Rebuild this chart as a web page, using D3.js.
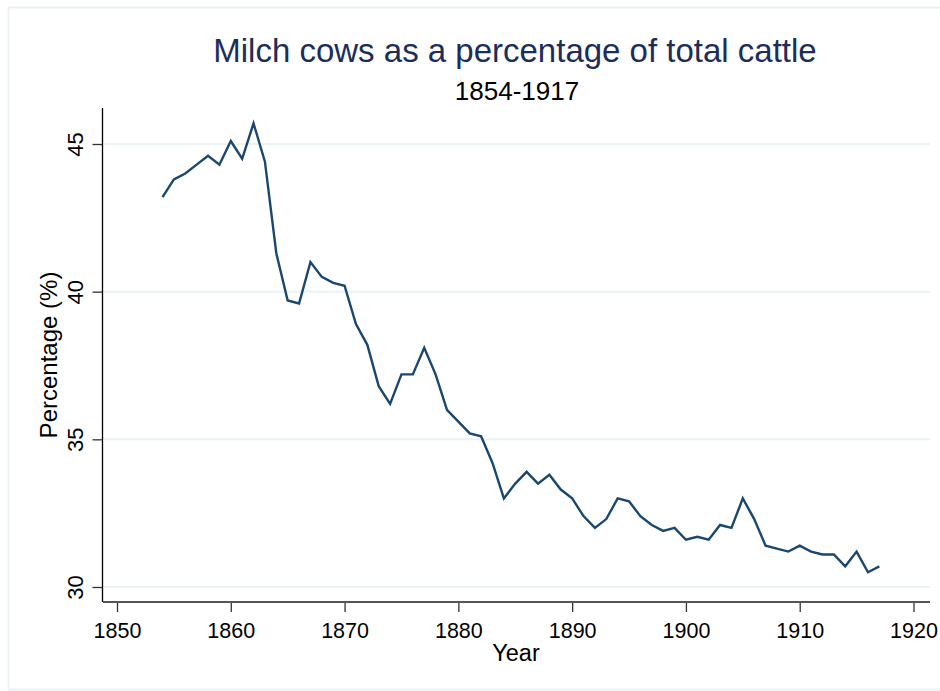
<!DOCTYPE html>
<html>
<head>
<meta charset="utf-8">
<script src="https://cdn.jsdelivr.net/npm/d3@7"></script>
<style>
  html, body { margin: 0; padding: 0; background: #fff; }
  svg { display: block; font-family: "Liberation Sans", Arial, sans-serif; }
</style>
</head>
<body>
<svg id="chart" width="940" height="691"></svg>
<script>
const years = [1854,1855,1856,1857,1858,1859,1860,1861,1862,1863,1864,1865,1866,1867,1868,1869,1870,1871,1872,1873,1874,1875,1876,1877,1878,1879,1880,1881,1882,1883,1884,1885,1886,1887,1888,1889,1890,1891,1892,1893,1894,1895,1896,1897,1898,1899,1900,1901,1902,1903,1904,1905,1906,1907,1908,1909,1910,1911,1912,1913,1914,1915,1916,1917];
const percentages = [43.2,43.8,44.0,44.3,44.6,44.3,45.1,44.5,45.7,44.4,41.3,39.7,39.6,41.0,40.5,40.3,40.2,38.9,38.2,36.8,36.2,37.2,37.2,38.1,37.2,36.0,35.6,35.2,35.1,34.2,33.0,33.5,33.9,33.5,33.8,33.3,33.0,32.4,32.0,32.3,33.0,32.9,32.4,32.1,31.9,32.0,31.6,31.7,31.6,32.1,32.0,33.0,32.3,31.4,31.3,31.2,31.4,31.2,31.1,31.1,30.7,31.2,30.5,30.7];
const xTicks = [1850,1860,1870,1880,1890,1900,1910,1920];
const yTicks = [30,35,40,45];
const titleText = "Milch cows as a percentage of total cattle";
const subtitleText = "1854-1917";
const xLabel = "Year";
const yLabel = "Percentage (%)";

const svg = d3.select("#chart");
const plot = {left: 103, right: 930, top: 108, bottom: 602};

const x = d3.scaleLinear().domain([1850, 1920]).range([117, 913.5]);
const y = d3.scaleLinear().domain([30, 45]).range([587, 144]);

// outer frame
svg.append("rect")
  .attr("x", 8.5).attr("y", 7.5).attr("width", 940).attr("height", 682)
  .attr("fill", "none").attr("stroke", "#eaf2f3").attr("stroke-width", 2);

// gridlines
svg.append("g").selectAll("line").data(yTicks).join("line")
  .attr("x1", plot.left).attr("x2", plot.right)
  .attr("y1", d => y(d)).attr("y2", d => y(d))
  .attr("stroke", "#eaf2f3").attr("stroke-width", 2);

// line
const line = d3.line().x((d, i) => x(years[i])).y(d => y(d));
svg.append("path").datum(percentages)
  .attr("d", line).attr("fill", "none")
  .attr("stroke", "#1a476f").attr("stroke-width", 2.4)
  .attr("stroke-linejoin", "miter");

// y axis
const yAxis = svg.append("g").attr("transform", `translate(${plot.left - 0.5},0)`)
  .call(d3.axisLeft(y).tickValues(yTicks).tickSize(10).tickSizeOuter(0).tickFormat(d3.format("d")));
yAxis.select(".domain").remove();
yAxis.append("line").attr("x1", 0).attr("x2", 0).attr("y1", plot.top).attr("y2", plot.bottom)
  .attr("stroke", "#000").attr("stroke-width", 1.3);
yAxis.selectAll(".tick line").attr("stroke", "#333").attr("stroke-width", 1.3);
yAxis.selectAll(".tick text")
  .attr("x", null).attr("dy", null)
  .attr("transform", "translate(-19.5,0) rotate(-90)")
  .attr("text-anchor", "middle")
  .attr("fill", "#000")
  .style("font-size", "22px");

// x axis
const xAxis = svg.append("g").attr("transform", `translate(0,${plot.bottom})`)
  .call(d3.axisBottom(x).tickValues(xTicks).tickSize(10).tickSizeOuter(0).tickFormat(d3.format("d")));
xAxis.select(".domain").remove();
xAxis.append("line").attr("x1", plot.left).attr("x2", plot.right).attr("y1", 0).attr("y2", 0)
  .attr("stroke", "#555").attr("stroke-width", 2);
xAxis.selectAll(".tick line").attr("stroke", "#333").attr("stroke-width", 1.3);
xAxis.selectAll(".tick text")
  .attr("y", 36).attr("dy", null)
  .attr("fill", "#000")
  .style("font-size", "21.5px");

// titles
svg.append("text").attr("x", 515).attr("y", 62).attr("text-anchor", "middle")
  .attr("fill", "#1c2d5a").style("font-size", "33px").text(titleText);
svg.append("text").attr("x", 517).attr("y", 100).attr("text-anchor", "middle")
  .attr("fill", "#000").style("font-size", "26px").text(subtitleText);

// axis titles
svg.append("text").attr("x", 516).attr("y", 661).attr("text-anchor", "middle")
  .attr("fill", "#000").style("font-size", "23.5px").text(xLabel);
svg.append("text").attr("transform", "translate(57,355) rotate(-90)").attr("text-anchor", "middle")
  .attr("fill", "#000").style("font-size", "24px").text(yLabel);
</script>
</body>
</html>
